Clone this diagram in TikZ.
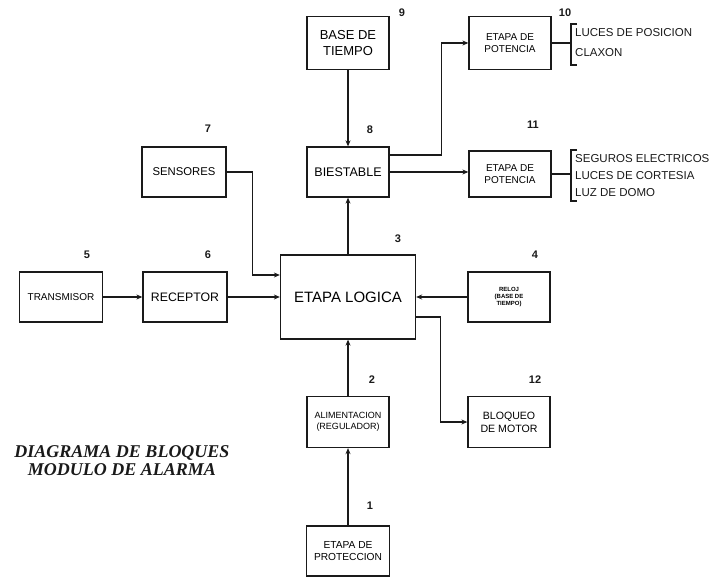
\documentclass[tikz,border=0pt]{standalone}
\usepackage{fontspec}
\setmainfont{Liberation Sans}
\newfontfamily\titlefont{Liberation Serif}
\usepackage{tikz}
\usetikzlibrary{arrows.meta,positioning,calc}
\definecolor{ink}{HTML}{1A1A1A}
\tikzset{
  blockbox/.style={
    rectangle, draw=ink, line width=1.3pt, fill=white,
    minimum width=82pt, minimum height=50pt,
    font=\fontsize{#1}{\dimexpr #1pt*6/5\relax}\selectfont, align=center,
    inner sep=2pt
  },
  blockbox/.default=10,
  numlabel/.style={
    font=\fontsize{11}{13}\selectfont\bfseries, text=ink, inner sep=0pt
  },
  sigarrow/.style={
    -{Stealth[length=6pt,width=5pt]}, line width=1.3pt, color=ink
  },
  sigline/.style={line width=1.3pt, color=ink},
  outtext/.style={
    font=\fontsize{11.5}{14}\selectfont, text=ink, anchor=west, inner sep=0pt
  },
}

\begin{document}
\begin{tikzpicture}[x=1pt,y=-1pt]
\useasboundingbox (0,0) rectangle (712,577);

% blocks
\node[blockbox=13, minimum height=53pt] (base) at (348,43) {BASE DE\\TIEMPO};
\node[blockbox, minimum height=53pt] (pot10) at (510,43) {ETAPA DE\\POTENCIA};
\node[blockbox=11.3, minimum width=84pt] (sens) at (184,172) {SENSORES};
\node[blockbox=12.5] (bies) at (348,172) {BIESTABLE};
\node[blockbox, minimum height=46pt] (pot11) at (510,174) {ETAPA DE\\POTENCIA};
\node[blockbox, minimum width=83pt] (trans) at (61,297) {TRANSMISOR};
\node[blockbox=12.3, minimum width=84pt] (recep) at (185,297) {RECEPTOR};
\node[blockbox=15, minimum width=135pt, minimum height=84pt] (logica) at (348,297) {ETAPA LOGICA};
\node[blockbox=6] (reloj) at (509,297) {\bfseries RELOJ\\\bfseries (BASE DE\\\bfseries TIEMPO)};
\node[blockbox=9, minimum height=51pt] (alim) at (348,422) {ALIMENTACION\\(REGULADOR)};
\node[blockbox=10.6, minimum height=51pt] (bloq) at (509,422) {BLOQUEO\\DE MOTOR};
\node[blockbox=10.2, minimum width=83pt] (prot) at (348,551) {ETAPA DE\\PROTECCION};

% numbers
\node[numlabel] (n9) at (402,13) {9};
\node[numlabel] (n10) at (565,13) {10};
\node[numlabel] (n7) at (208,129) {7};
\node[numlabel] (n8) at (370,130) {8};
\node[numlabel] (n11) at (533,125) {11};
\node[numlabel] (n3) at (398,239) {3};
\node[numlabel] (n4) at (535,255) {4};
\node[numlabel] (n5) at (87,255) {5};
\node[numlabel] (n6) at (208,255) {6};
\node[numlabel] (n2) at (372,380) {2};
\node[numlabel] (n12) at (535,380) {12};
\node[numlabel] (n1) at (370,506) {1};

% outputs
\coordinate (br10) at (571,43);
\coordinate (br11) at (571,174);
\draw[sigline] (pot10.east) -- (br10);
\draw[sigline] ([shift={(6,-19)}]br10) -- ([shift={(0,-19)}]br10)
  -- ([shift={(0,22)}]br10) -- ([shift={(6,22)}]br10);
\node[outtext] (luc1) at (575,33) {LUCES DE POSICION};
\node[outtext] (clax) at (575,53) {CLAXON};
\draw[sigline] (pot11.east) -- (br11);
\draw[sigline] ([shift={(6,-24)}]br11) -- ([shift={(0,-24)}]br11)
  -- ([shift={(0,27)}]br11) -- ([shift={(6,27)}]br11);
\node[outtext] (seg) at (575,159) {SEGUROS ELECTRICOS};
\node[outtext] (luc2) at (575,176) {LUCES DE CORTESIA};
\node[outtext] (domo) at (575,193) {LUZ DE DOMO};

% main flow
\draw[sigarrow] (trans) -- (recep);
\draw[sigarrow] (recep) -- (logica);
\draw[sigarrow] (sens.east) -- ++(26,0) |- ([yshift=22pt]logica.west);
\draw[sigarrow] (reloj) -- (logica);
\draw[sigarrow] (logica) -- (bies);
\draw[sigarrow] (base) -- (bies);
\draw[sigarrow] ([yshift=17pt]bies.east) -- ++(52,0) |- (pot10.west);
\draw[sigarrow] (bies.east) -- (bies.east -| pot11.west);
\draw[sigarrow] ([yshift=-20pt]logica.east) -- ++(24,0) |- (bloq.west);
\draw[sigarrow] (alim) -- (logica);
\draw[sigarrow] (prot) -- (alim);

% title
\node[font=\titlefont\fontsize{18}{18}\selectfont\bfseries\itshape, align=center,
  text=ink] (title) at (122,461) {DIAGRAMA DE BLOQUES\\MODULO DE ALARMA};

\end{tikzpicture}
\end{document}
